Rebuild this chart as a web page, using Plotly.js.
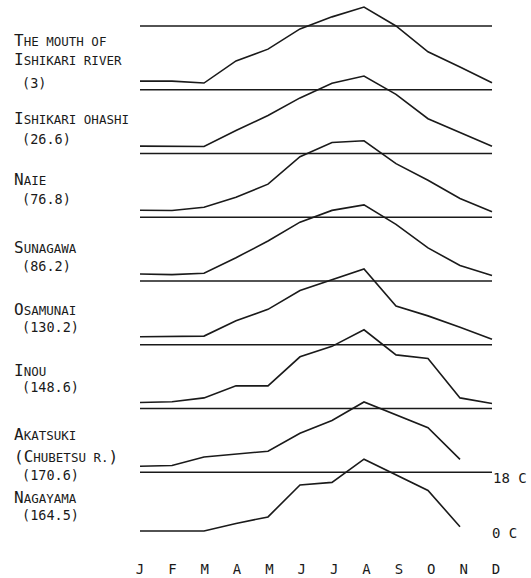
<!DOCTYPE html>
<html>
<head>
<meta charset="utf-8">
<script src="https://cdn.plot.ly/plotly-3.0.1.min.js"></script>
<style>html,body{margin:0;padding:0;background:#fff;}#chart{width:531px;height:578px;}</style>
</head>
<body>
<div id="chart"></div>
<script>
// Month tick labels
const months = ['J','F','M','A','M','J','J','A','S','O','N','D'];

// Station labels and (distance) labels
const stationLines = [
  ['The mouth of', 'Ishikari river', '(3)'],
  ['Ishikari ohashi', '(26.6)'],
  ['Naie', '(76.8)'],
  ['Sunagawa', '(86.2)'],
  ['Osamunai', '(130.2)'],
  ['Inou', '(148.6)'],
  ['Akatsuki', '(Chubetsu r.)', '(170.6)'],
  ['Nagayama', '(164.5)']
];

// Monthly water temperature (deg C), Jan..Dec
const mouthIshikari  = [1.1, 1.1, 0.5, 7.3, 10.9, 17.1, 20.8, 23.8, 18.0, 10.1, 5.4, 0.6];
const ishikariOhashi = [0.7, 0.7, 0.6, 5.5, 10.1, 15.5, 20.0, 22.2, 16.6, 9.1, 4.9, 0.7];
const naie           = [0.6, 0.5, 1.5, 4.6, 8.6, 17.0, 21.4, 21.9, 14.9, 9.8, 4.2, 0.1];
const sunagawa       = [0.6, 0.4, 0.8, 5.6, 10.7, 16.5, 20.1, 21.8, 15.8, 8.6, 3.2, 0.1];
const osamunai       = [0.9, 0.9, 1.1, 5.8, 9.3, 15.1, 18.3, 21.7, 10.3, 7.3, 3.8, 0.1];
const inou           = [0.3, 0.5, 1.7, 5.4, 5.4, 14.3, 17.5, 22.6, 14.9, 13.8, 1.7, 0.0];
const akatsuki       = [0.3, 0.5, 3.1, 3.9, 4.9, 10.4, 14.3, 20.0, 16.0, 12.1, 2.4, null];
const nagayama       = [0.0, 0.0, 0.0, 2.3, 4.3, 14.1, 14.9, 22.0, 17.1, 12.4, 1.3, null];

const series = [mouthIshikari, ishikariOhashi, naie, sunagawa, osamunai, inou, akatsuki, nagayama];
const refTemp = 18;

// ---- layout geometry (pixels) ----
const W = 531, H = 578, plotH = 548;
const pxPerDeg = 3.26;            // vertical scale
const firstLinePx = 26;           // 18 C line of top panel
const panelPx = 63.75;            // spacing between panels
const shift = panelPx / pxPerDeg; // panel offset in deg C
const x0px = 140, monthPx = 32, labelMonthPx = 32.36;
const yMax = refTemp + firstLinePx / pxPerDeg;
const yMin = yMax - plotH / pxPerDeg;
const xMin = -x0px / monthPx, xMax = (W - x0px) / monthPx;

const ink = '#1a1a1a';
const FONT = '"DejaVu Sans Mono", "Liberation Mono", monospace';
const xIdx = months.map((_, i) => i);

const traces = [];
series.forEach((vals, i) => {
  const off = i * shift;
  traces.push({
    x: xIdx, y: vals.map(v => v === null ? null : v - off),
    mode: 'lines', line: {color: ink, width: 1.6}, hoverinfo: 'skip', showlegend: false
  });
  traces.push({
    x: [0, 11], y: [refTemp - off, refTemp - off],
    mode: 'lines', line: {color: ink, width: 1.6}, hoverinfo: 'skip', showlegend: false
  });
});
// carrier trace for the month-label axis
traces.push({x: [0], y: [null], xaxis: 'x2', yaxis: 'y', mode: 'lines', hoverinfo: 'skip', showlegend: false});

// small caps rendering: lowercase -> smaller uppercase
function smallCaps(t, small) {
  let out = '', run = '', runSmall = null;
  const flush = () => {
    if (!run) return;
    out += runSmall ? '<span style="font-size:' + small + 'px">' + run + '</span>' : run;
    run = '';
  };
  for (const ch of t) {
    const isSmall = /[a-z .]/.test(ch);
    if (runSmall !== null && isSmall !== runSmall) flush();
    runSmall = isSmall;
    run += isSmall ? ch.toUpperCase() : ch;
  }
  flush();
  return out;
}

// text label positions (pixel centre y)
const labelY = [
  [40, 59, 83], [119, 139], [180, 199], [247, 266],
  [309, 327], [370, 387], [435, 456, 475], [497, 515]
];
const annotations = [];
stationLines.forEach((lines, i) => {
  lines.forEach((t, j) => {
    const isNum = /^\(\d/.test(t);
    annotations.push({
      xref: 'paper', yref: 'paper', x: (isNum ? 20 : 12) / W, y: 1 - labelY[i][j] / plotH,
      xanchor: 'left', yanchor: 'middle', showarrow: false,
      text: isNum ? t : smallCaps(t, 12.5),
      font: {family: FONT, size: isNum ? 13.5 : 16, color: ink}
    });
  });
});
annotations.push({xref: 'paper', yref: 'paper', x: 491 / W, y: 1 - 478 / plotH, xanchor: 'left', yanchor: 'middle',
  showarrow: false, text: '18 C', font: {family: FONT, size: 14, color: ink}});
annotations.push({xref: 'paper', yref: 'paper', x: 490 / W, y: 1 - 533 / plotH, xanchor: 'left', yanchor: 'middle',
  showarrow: false, text: '0 C', font: {family: FONT, size: 14, color: ink}});

const layout = {
  width: W, height: H,
  margin: {l: 0, r: 0, t: 0, b: H - plotH, pad: 0},
  paper_bgcolor: '#fff', plot_bgcolor: '#fff',
  showlegend: false,
  xaxis: {range: [xMin, xMax], showticklabels: false, showgrid: false, zeroline: false,
          showline: false, ticks: '', fixedrange: true},
  xaxis2: {overlaying: 'x', anchor: 'y', side: 'bottom',
           range: [-x0px / labelMonthPx, (W - x0px) / labelMonthPx],
           tickvals: xIdx, ticktext: months, showgrid: false, zeroline: false, showline: false,
           ticks: 'outside', ticklen: 8, tickcolor: 'rgba(0,0,0,0)',
           tickfont: {family: FONT, size: 14, color: ink}, fixedrange: true},
  yaxis: {range: [yMin, yMax], visible: false, fixedrange: true},
  annotations: annotations
};

Plotly.newPlot('chart', traces, layout, {displayModeBar: false, staticPlot: true});
</script>
</body>
</html>
